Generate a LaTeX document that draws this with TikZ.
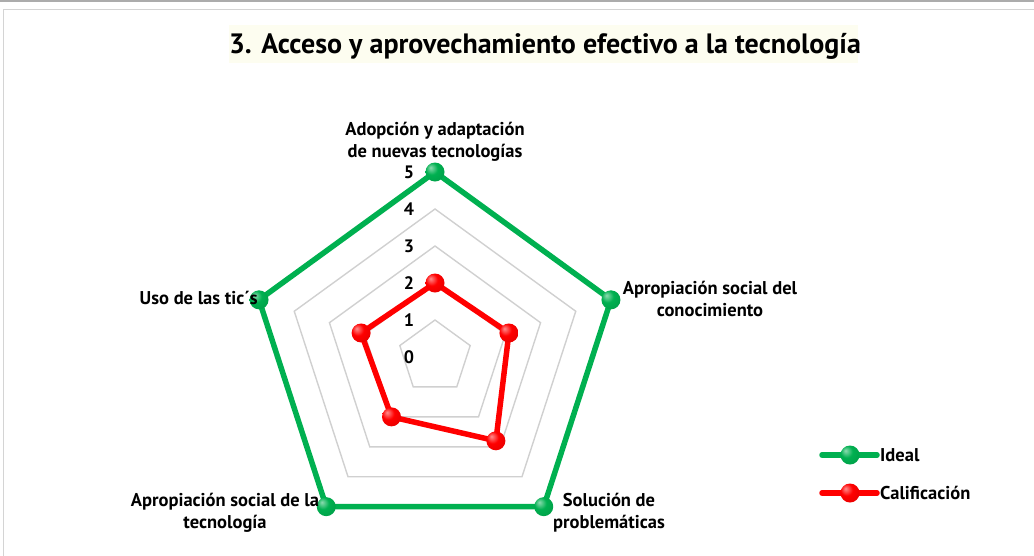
\documentclass[tikz,border=0pt]{standalone}
\usepackage{fontspec}
\setmainfont{PT Sans}[FakeStretch=1.0]
\definecolor{idealgreen}{HTML}{00B050}
\definecolor{califred}{HTML}{FF0000}
\definecolor{gridgray}{HTML}{D0D0D0}
\definecolor{titlebg}{HTML}{FDFDF0}
\definecolor{framegray}{HTML}{D4D4D4}
\pgfdeclareradialshading{idealball}{\pgfpoint{-12bp}{12bp}}{color(0bp)=(idealgreen!45!white); color(16bp)=(idealgreen); color(40bp)=(idealgreen!88!black); color(62bp)=(idealgreen!72!black)}
\pgfdeclareradialshading{califball}{\pgfpoint{-12bp}{12bp}}{color(0bp)=(califred!45!white); color(16bp)=(califred); color(40bp)=(califred!88!black); color(62bp)=(califred!72!black)}
\tikzset{
  ring/.style={draw=gridgray, line width=1.4pt},
  idealline/.style={draw=idealgreen, line width=5.5pt, line join=round},
  califline/.style={draw=califred, line width=5.5pt, line join=round},
  idealdot/.style={circle, inner sep=0pt, minimum size=19pt, shading=idealball},
  califdot/.style={circle, inner sep=0pt, minimum size=19pt, shading=califball},
  axislabel/.style={font=\bfseries\fontsize{18.5}{22}\selectfont, align=center, inner sep=0pt},
  ticklabel/.style={font=\bfseries\fontsize{18}{20}\selectfont, inner sep=0pt},
}
\begin{document}
\begin{tikzpicture}[x=1pt, y=-1pt] % {{{
\pgfmathsetmacro{\unitstep}{37}
\useasboundingbox (0,0) rectangle (1034,555);
% Marco y titulo   {{{
\fill[gray!65] (0,0) rectangle (1034,1.5);
\draw[framegray, line width=1.5pt] (3.5,560) -- (3.5,9.5) -- (1040,9.5);
\node[fill=titlebg, minimum width=629, minimum height=38, inner sep=0pt] (titlebox) at (543,44) {};
\node[font=\bfseries\fontsize{28}{32}\selectfont, inner sep=0pt] (title) at (545,46) {3. Acceso y aprovechamiento efectivo a la tecnología};
% }}}
\begin{scope}[shift={(435,357)}, yscale=-1] % Radar {{{
\foreach \lvl in {1,...,5} {
  \draw[ring] (90:\lvl*\unitstep) \foreach \k in {1,...,4} { -- (90-72*\k:\lvl*\unitstep) } -- cycle;
}
\foreach \lvl in {0,...,5} \node[ticklabel] (tick\lvl) at (-26,\lvl*\unitstep) {\lvl};
% Ideal
\foreach \k in {0,...,4} \coordinate (ideal\k) at (90-72*\k:5*\unitstep);
% Calificacion
\foreach \k/\val in {0/2,1/2.1,2/2.8,3/2,4/2.1} \coordinate (calif\k) at (90-72*\k:\val*\unitstep);
\draw[idealline] (ideal0) -- (ideal1) -- (ideal2) -- (ideal3) -- (ideal4) -- cycle;
\draw[califline] (calif0) -- (calif1) -- (calif2) -- (calif3) -- (calif4) -- cycle;
\foreach \k in {0,...,4} \node[idealdot] (idealpt\k) at (ideal\k) {};
\foreach \k in {0,...,4} \node[califdot] (califpt\k) at (calif\k) {};
\end{scope} % }}}
% Etiquetas de los ejes   {{{
\node[axislabel] (adopcion) at (435,142) {Adopción y adaptación\\de nuevas tecnologías};
\node[axislabel] (apropcon) at (710,299) {Apropiación social del\\conocimiento};
\node[axislabel] (solucion) at (609,513) {Solución de\\problemáticas};
\node[axislabel] (aproptec) at (225,513) {Apropiación social de la\\tecnología};
\node[axislabel, anchor=east] (usotic) at (258,298) {Uso de las tic´s};
% }}}
% Leyenda   {{{
\coordinate (legidealA) at (822,455); \coordinate (legidealB) at (877,455);
\coordinate (legcalifA) at (822,493); \coordinate (legcalifB) at (877,493);
\draw[idealline, line cap=round] (legidealA) -- (legidealB);
\node[idealdot] (legidealpt) at (850,455) {};
\node[axislabel, anchor=west] (legideal) at (880,455) {Ideal};
\draw[califline, line cap=round] (legcalifA) -- (legcalifB);
\node[califdot] (legcalifpt) at (850,493) {};
\node[axislabel, anchor=west] (legcalif) at (880,493) {Calificación};
% }}}
\end{tikzpicture} % }}}
\end{document}
